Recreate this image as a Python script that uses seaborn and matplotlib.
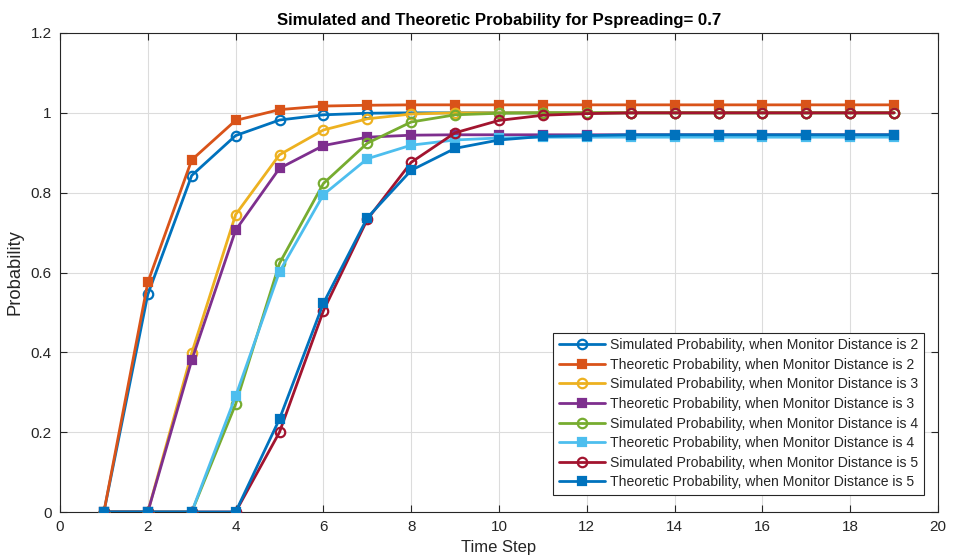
import matplotlib
matplotlib.use("Agg")
import matplotlib.pyplot as plt
import seaborn as sns
import pandas as pd

steps = [1, 2, 3, 4, 5, 6, 7, 8, 9, 10, 11, 12, 13, 14, 15, 16, 17, 18, 19]

sim2 = [0, 0.545, 0.843, 0.943, 0.982, 0.995, 0.999, 1.0, 1.0, 1.0, 1.0, 1.0, 1.0, 1.0, 1.0, 1.0, 1.0, 1.0, 1.0]
theo2 = [0, 0.575, 0.882, 0.981, 1.008, 1.017, 1.019, 1.02, 1.02, 1.02, 1.02, 1.02, 1.02, 1.02, 1.02, 1.02, 1.02, 1.02, 1.02]
sim3 = [0, 0, 0.398, 0.745, 0.895, 0.957, 0.985, 0.997, 1.0, 1.0, 1.0, 1.0, 1.0, 1.0, 1.0, 1.0, 1.0, 1.0, 1.0]
theo3 = [0, 0, 0.38, 0.706, 0.861, 0.918, 0.939, 0.944, 0.945, 0.945, 0.945, 0.945, 0.945, 0.945, 0.945, 0.945, 0.945, 0.945, 0.945]
sim4 = [0, 0, 0, 0.27, 0.623, 0.823, 0.924, 0.977, 0.995, 0.999, 1.0, 1.0, 1.0, 1.0, 1.0, 1.0, 1.0, 1.0, 1.0]
theo4 = [0, 0, 0, 0.29, 0.602, 0.795, 0.885, 0.919, 0.932, 0.937, 0.939, 0.939, 0.939, 0.939, 0.939, 0.939, 0.939, 0.939, 0.939]
sim5 = [0, 0, 0, 0, 0.2, 0.504, 0.733, 0.876, 0.95, 0.981, 0.994, 0.998, 1.0, 1.0, 1.0, 1.0, 1.0, 1.0, 1.0]
theo5 = [0, 0, 0, 0, 0.233, 0.523, 0.737, 0.856, 0.911, 0.932, 0.941, 0.943, 0.945, 0.945, 0.945, 0.945, 0.945, 0.945, 0.945]

labels = [
    "Simulated Probability, when Monitor Distance is 2",
    "Theoretic Probability, when Monitor Distance is 2",
    "Simulated Probability, when Monitor Distance is 3",
    "Theoretic Probability, when Monitor Distance is 3",
    "Simulated Probability, when Monitor Distance is 4",
    "Theoretic Probability, when Monitor Distance is 4",
    "Simulated Probability, when Monitor Distance is 5",
    "Theoretic Probability, when Monitor Distance is 5",
]
series = [sim2, theo2, sim3, theo3, sim4, theo4, sim5, theo5]
colors = ["#0072BD", "#D95319", "#EDB120", "#7E2F8E", "#77AC30", "#4DBEEE", "#A2142F", "#0072BD"]

x_ticks = [0, 2, 4, 6, 8, 10, 12, 14, 16, 18, 20]
y_ticks = [0, 0.2, 0.4, 0.6, 0.8, 1.0, 1.2]
y_ticklabels = ["0", "0.2", "0.4", "0.6", "0.8", "1", "1.2"]

sns.set_theme(style="white")
plt.rcParams["font.family"] = ["Liberation Sans", "DejaVu Sans"]

fig = plt.figure(figsize=(9.55, 5.6), dpi=100)
ax = fig.add_axes([60 / 955, 1 - 512 / 560, (938 - 60) / 955, (512 - 33) / 560])

for i, (vals, lab, col) in enumerate(zip(series, labels, colors)):
    df = pd.DataFrame({"Time Step": steps, "Probability": vals})
    simulated = i % 2 == 0
    sns.lineplot(
        data=df, x="Time Step", y="Probability", ax=ax, color=col, label=lab,
        linewidth=2.0,
        marker="o" if simulated else "s",
        markersize=6.8 if simulated else 6,
        markerfacecolor="none" if simulated else col,
        markeredgecolor=col, markeredgewidth=1.6,
        zorder=3 + i,
    )

ax.set_xlim(0, 20)
ax.set_ylim(0, 1.2)
ax.set_xticks(x_ticks)
ax.set_yticks(y_ticks)
ax.set_yticklabels(y_ticklabels)
ax.grid(True, color="#dcdcdc", linewidth=0.8)
ax.set_axisbelow(True)
for s in ax.spines.values():
    s.set_color("#262626")
    s.set_linewidth(0.8)
    s.set_visible(True)
ax.tick_params(direction="in", length=5, width=0.8, colors="#262626",
               labelsize=11, top=True, right=True, left=True, bottom=True,
               labelcolor="#262626", pad=6)
ax.set_xlabel("Time Step", fontsize=12, color="#262626", labelpad=4)
ax.set_ylabel("Probability", fontsize=13.2, color="#262626")
ax.yaxis.set_label_coords((24 - 60) / 878, 0.5)
ax.set_title("Simulated and Theoretic Probability for Pspreading= 0.7",
             fontsize=12.1, fontweight="bold", color="#000000", pad=6)

leg = ax.legend(loc="lower right", fontsize=10.1, frameon=True, fancybox=False,
                edgecolor="#262626", framealpha=1, borderpad=0.4,
                labelspacing=0.4, handlelength=3.3, handletextpad=0.35,
                borderaxespad=0, bbox_to_anchor=(864 / 878, 17 / 479))
leg.get_frame().set_linewidth(0.8)

fig.savefig("out.png", dpi=100)
